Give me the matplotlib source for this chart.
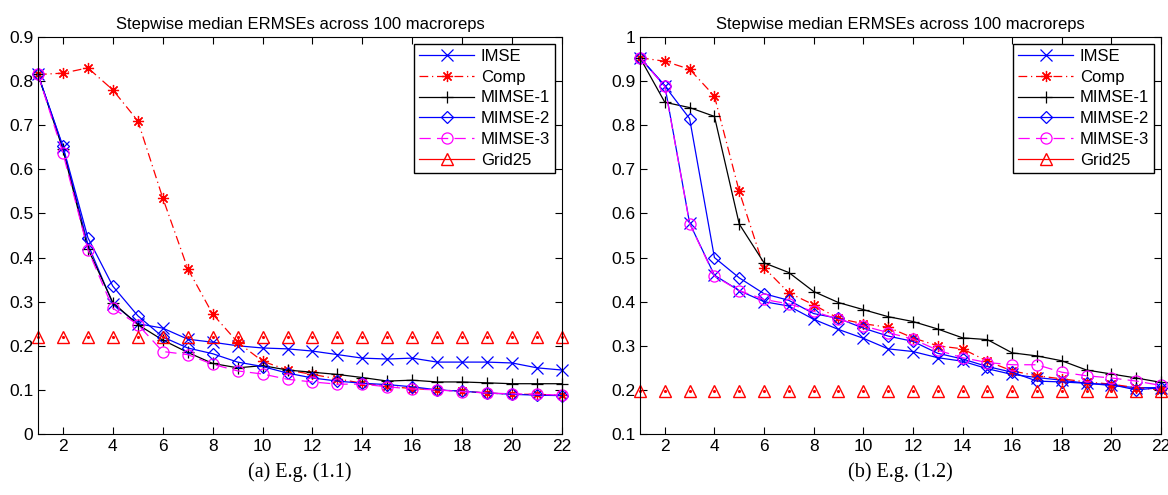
import matplotlib
matplotlib.use('Agg')
import matplotlib.pyplot as plt
from matplotlib.lines import Line2D
import numpy as np

plt.rcParams['font.family'] = ['Liberation Sans', 'DejaVu Sans']

steps = np.arange(1, 23)

# E.g. (1.1)
imse_a = [0.815, 0.65, 0.43, 0.295, 0.25, 0.24, 0.215, 0.208, 0.20, 0.195, 0.193, 0.188,
          0.18, 0.172, 0.17, 0.172, 0.163, 0.163, 0.163, 0.161, 0.15, 0.145]
comp_a = [0.815, 0.818, 0.83, 0.78, 0.71, 0.535, 0.375, 0.272, 0.208, 0.165, 0.145, 0.135,
          0.125, 0.115, 0.108, 0.103, 0.1, 0.097, 0.093, 0.09, 0.09, 0.088]
mimse1_a = [0.815, 0.645, 0.42, 0.298, 0.248, 0.213, 0.185, 0.16, 0.15, 0.155, 0.145, 0.14,
            0.135, 0.128, 0.12, 0.122, 0.118, 0.118, 0.116, 0.114, 0.114, 0.114]
mimse2_a = [0.815, 0.652, 0.445, 0.335, 0.268, 0.22, 0.195, 0.182, 0.163, 0.153, 0.138, 0.127,
            0.12, 0.115, 0.112, 0.107, 0.1, 0.097, 0.093, 0.09, 0.088, 0.087]
mimse3_a = [0.815, 0.637, 0.418, 0.285, 0.248, 0.187, 0.18, 0.158, 0.143, 0.136, 0.124, 0.118,
            0.113, 0.113, 0.107, 0.102, 0.1, 0.096, 0.093, 0.091, 0.09, 0.088]
grid_a = [0.22] * 22

# E.g. (1.2)
imse_b = [0.953, 0.89, 0.578, 0.46, 0.425, 0.40, 0.39, 0.36, 0.337, 0.317, 0.293, 0.287,
          0.273, 0.265, 0.248, 0.235, 0.228, 0.222, 0.215, 0.21, 0.205, 0.205]
comp_b = [0.953, 0.945, 0.927, 0.866, 0.65, 0.477, 0.42, 0.393, 0.362, 0.35, 0.342, 0.318,
          0.3, 0.293, 0.265, 0.243, 0.232, 0.225, 0.218, 0.213, 0.205, 0.2]
mimse1_b = [0.953, 0.852, 0.84, 0.82, 0.576, 0.488, 0.466, 0.423, 0.398, 0.382, 0.366, 0.355,
            0.338, 0.318, 0.314, 0.284, 0.277, 0.266, 0.245, 0.236, 0.227, 0.217]
mimse2_b = [0.953, 0.889, 0.815, 0.50, 0.454, 0.418, 0.403, 0.373, 0.362, 0.34, 0.322, 0.31,
            0.283, 0.27, 0.253, 0.24, 0.22, 0.218, 0.215, 0.212, 0.2, 0.205]
mimse3_b = [0.953, 0.888, 0.577, 0.458, 0.425, 0.405, 0.395, 0.378, 0.36, 0.345, 0.33, 0.315,
            0.29, 0.273, 0.262, 0.257, 0.257, 0.24, 0.232, 0.227, 0.22, 0.21]
grid_b = [0.197] * 22

labels = ['IMSE', 'Comp', 'MIMSE-1', 'MIMSE-2', 'MIMSE-3', 'Grid25']
xticks = list(range(2, 23, 2))
title = 'Stepwise median ERMSEs across 100 macroreps'
captions = ['(a) E.g. (1.1)', '(b) E.g. (1.2)']

# matlab-ish asterisk for Comp
styles = [
    dict(color='blue', ls='-', marker='x', ms=8),
    dict(color='red', ls=(0, (7, 3, 1, 3)), marker=(8, 2, 0), ms=8),
    dict(color='black', ls='-', marker='+', ms=8),
    dict(color='blue', ls='-', marker='D', mfc='none', ms=6.5),
    dict(color='magenta', ls=(0, (9, 5)), marker='o', mfc='none', ms=8),
]


def draw_panel(ax, series, grid, ylim, yticks):
    for s, st in zip(series, styles):
        ax.plot(steps, s, lw=0.9, mew=0.9, clip_on=False, **st)
    ax.plot(steps, grid, ls='none', marker='^', ms=9, mfc='none', mec='red', mew=1.0, clip_on=False)
    ax.plot(steps, grid, ls='none', marker='.', ms=2.5, color='red', clip_on=False)
    ax.set_xlim(1, 22)
    ax.set_ylim(*ylim)
    ax.set_xticks(xticks)
    ax.set_yticks(yticks)
    ax.set_yticklabels(['%g' % v for v in yticks])
    ax.tick_params(direction='in', top=True, right=True, labelsize=12.5, length=5, width=0.8)
    ax.set_title(title, fontsize=12, pad=6)
    handles = [Line2D([], [], lw=0.9, mew=0.9, **st) for st in styles]
    handles.append(Line2D([], [], color='red', ls='-', marker='^', ms=9, mfc='none', lw=0.9))
    leg = ax.legend(handles, labels, loc='upper right', fontsize=12, fancybox=False,
                    framealpha=1, edgecolor='black', handlelength=3.3, borderaxespad=0.4,
                    labelspacing=0.35, handletextpad=0.4, borderpad=0.3)
    leg.get_frame().set_linewidth(1.0)
    leg.set_zorder(5)


fig = plt.figure(figsize=(11.68, 4.95), dpi=100)
ax1 = fig.add_axes([38 / 1168, 61 / 495, 524 / 1168, 397 / 495])
ax2 = fig.add_axes([640 / 1168, 61 / 495, 521 / 1168, 397 / 495])

draw_panel(ax1, [imse_a, comp_a, mimse1_a, mimse2_a, mimse3_a], grid_a, (0, 0.9),
           np.round(np.arange(0, 0.91, 0.1), 1))
draw_panel(ax2, [imse_b, comp_b, mimse1_b, mimse2_b, mimse3_b], grid_b, (0.1, 1.0),
           np.round(np.arange(0.1, 1.01, 0.1), 1))

for ax, cap in zip([ax1, ax2], captions):
    ax.text(0.5, -0.097, cap, transform=ax.transAxes, ha='center', va='center',
            fontsize=14.5, family='Liberation Serif')

fig.savefig('out.png', dpi=100)
